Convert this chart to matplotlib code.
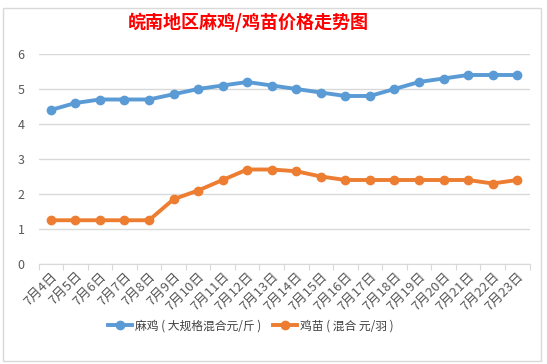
import matplotlib.pyplot as plt
from matplotlib.patches import Rectangle

plt.rcParams['font.family'] = ['Noto Sans CJK SC', 'DejaVu Sans']

dates = ['7月4日', '7月5日', '7月6日', '7月7日', '7月8日', '7月9日', '7月10日',
         '7月11日', '7月12日', '7月13日', '7月14日', '7月15日', '7月16日',
         '7月17日', '7月18日', '7月19日', '7月20日', '7月21日', '7月22日', '7月23日']
mazhi = [4.4, 4.6, 4.7, 4.7, 4.7, 4.85, 5.0, 5.1, 5.2, 5.1, 5.0, 4.9, 4.8,
         4.8, 5.0, 5.2, 5.3, 5.4, 5.4, 5.4]
jimiao = [1.25, 1.25, 1.25, 1.25, 1.25, 1.85, 2.1, 2.4, 2.7, 2.7, 2.65, 2.5,
          2.4, 2.4, 2.4, 2.4, 2.4, 2.4, 2.3, 2.4]
yticks = [0, 1, 2, 3, 4, 5, 6]

fig = plt.figure(figsize=(5.47, 3.64), dpi=100)
ax = fig.add_axes([38.5 / 547, 1 - 264 / 364, (529.5 - 38.5) / 547, 210 / 364])

x = range(len(dates))
ax.plot(x, mazhi, color='#5b9bd5', lw=2.8, marker='o', ms=6, label='麻鸡 ( 大规格混合元/斤 )')
ax.plot(x, jimiao, color='#ed7d31', lw=2.8, marker='o', ms=6, label='鸡苗 ( 混合 元/羽 )')

ax.set_xlim(-0.5, len(dates) - 0.5)
ax.set_ylim(0, 6)
ax.set_yticks(yticks)
ax.grid(axis='y', color='#d9d9d9', lw=1)
ax.set_axisbelow(True)
for s in ['top', 'right', 'left']:
    ax.spines[s].set_visible(False)
ax.spines['bottom'].set_color('#d9d9d9')
ax.tick_params(axis='y', length=0, labelsize=9, labelcolor='#595959', pad=10)

ax.set_xticks([i - 0.5 for i in range(len(dates) + 1)], minor=False)
ax.set_xticklabels([])
ax.tick_params(axis='x', which='major', length=4, color='#d9d9d9')
ax.set_xticks(list(x), minor=True)
ax.set_xticklabels(dates, minor=True, rotation=45, ha='right', va='top',
                   rotation_mode='anchor', fontsize=9.5, color='#595959')
ax.tick_params(axis='x', which='minor', length=0, pad=4)

fig.text(248 / 547, 1 - 22 / 364, '皖南地区麻鸡/鸡苗价格走势图', color='red',
         fontsize=13, fontweight='bold', ha='center', va='center')

fig.legend(loc='center', bbox_to_anchor=(251 / 547, 1 - 326 / 364), ncol=2, frameon=False,
           fontsize=8.5, labelcolor='#404040', handlelength=2.0, handletextpad=0.3,
           columnspacing=1.0)

fig.patches.append(Rectangle((3 / 547, 3 / 364), 538 / 547, 353 / 364, transform=fig.transFigure,
                             fill=False, edgecolor='#d9d9d9', lw=1))

fig.savefig('out.png', dpi=100)
